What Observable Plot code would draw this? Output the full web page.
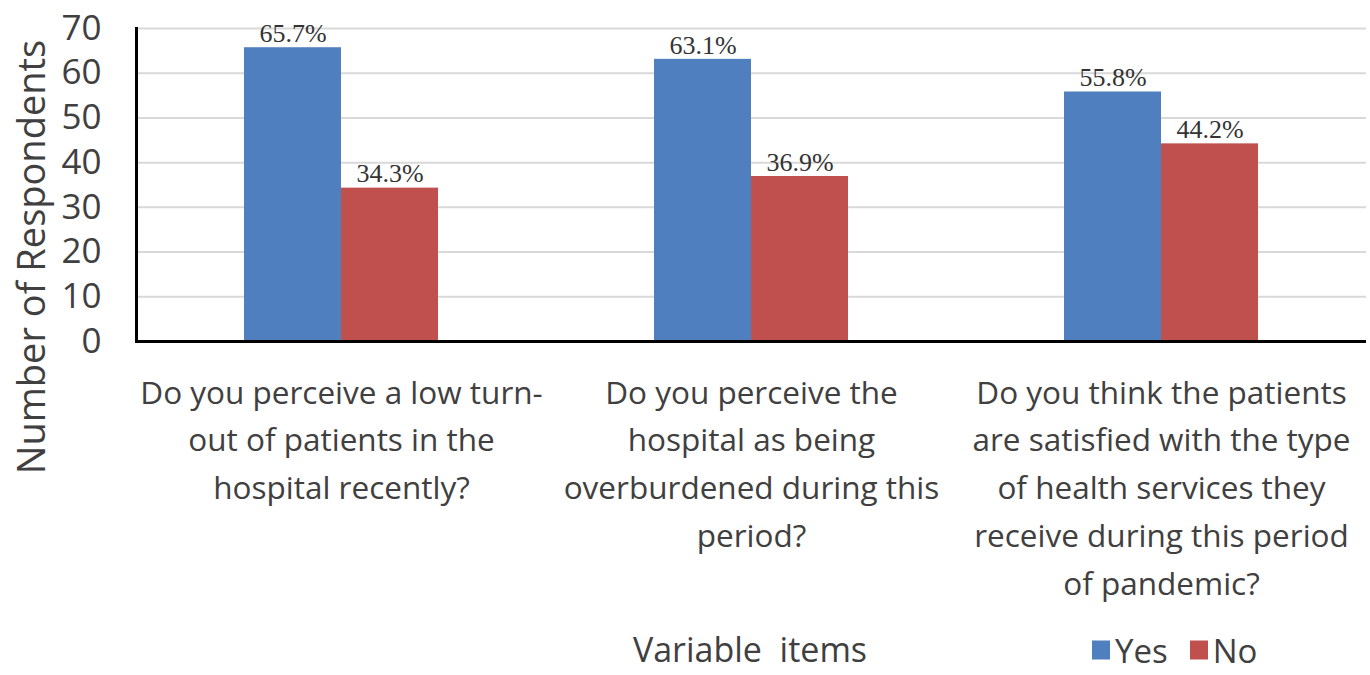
<!DOCTYPE html>
<html>
<head>
<meta charset="utf-8">
<script src="https://cdn.jsdelivr.net/npm/d3@7"></script>
<script src="https://cdn.jsdelivr.net/npm/@observablehq/plot@0.6"></script>
<style>
  html, body { margin: 0; padding: 0; background: #fff; }
  #wrap { position: relative; width: 1370px; height: 675px; overflow: hidden; font-family: "Open Sans", sans-serif; color: #404040; }
  #ylabel { position: absolute; left: 30px; top: 257px; transform: translate(-50%, -50%) rotate(-90deg); font-size: 38px; line-height: 1; white-space: nowrap; }
  #xlabel { position: absolute; left: 750px; top: 649px; transform: translate(-50%, -50%); font-size: 34px; line-height: 1; white-space: pre; }
  #legend { position: absolute; left: 1092px; top: 650px; transform: translateY(-50%); font-size: 33px; line-height: 1; display: flex; align-items: center; white-space: nowrap; }
  #legend .sw { display: inline-block; width: 18px; height: 19px; margin-right: 5px; }
  #legend .item { display: flex; align-items: center; margin-right: 22px; }
</style>
</head>
<body>
<div id="wrap"></div>
<script>
const categories = [
  "Do you perceive a low turn-\nout of patients in the\nhospital recently?",
  "Do you perceive the\nhospital as being\noverburdened during this\nperiod?",
  "Do you think the patients\nare satisfied with the type\nof health services they\nreceive during this period\nof pandemic?"
];
const series = ["Yes", "No"];
const yesValues = [65.7, 63.1, 55.8];
const noValues = [34.3, 36.9, 44.2];
const yTicks = [0, 10, 20, 30, 40, 50, 60, 70];
const colors = ["#4f7fbe", "#c0504d"];
const yTitle = "Number of Respondents";
const xTitle = "Variable  items";

const data = categories.flatMap((c, i) => [
  {category: c, series: "Yes", value: yesValues[i]},
  {category: c, series: "No", value: noValues[i]}
]);

const chart = Plot.plot({
  width: 1370,
  height: 675,
  marginLeft: 135,
  marginRight: 4,
  marginTop: 28,
  marginBottom: 334,
  style: {fontFamily: "Open Sans, sans-serif", color: "#404040", background: "transparent"},
  fx: {domain: categories, padding: 0, label: null},
  x: {domain: series, paddingInner: 0, paddingOuter: 1.113, axis: null},
  y: {domain: [0, 70], label: null},
  color: {domain: series, range: colors},
  marks: [
    Plot.gridY(yTicks, {stroke: "#d9d9d9", strokeOpacity: 1, strokeWidth: 2}),
    Plot.barY(data, {fx: "category", x: "series", y: "value", fill: "series"}),
    Plot.text(data, {fx: "category", x: "series", y: "value", text: d => d.value.toFixed(1) + "%",
      dy: -14, fontFamily: "Liberation Serif, serif", fontSize: 26, fill: "#333"}),
    Plot.ruleY([0], {stroke: "black", strokeWidth: 3}),
    Plot.frame({anchor: "left", stroke: "black", strokeWidth: 3, fx: [categories[0]]}),
    Plot.axisY({ticks: yTicks, tickSize: 0, tickPadding: 35, fontSize: 35, label: null}),
    Plot.axisFx({anchor: "bottom", tickSize: 0, tickPadding: 28, fontSize: 31.5, lineHeight: 1.52, label: null})
  ]
});

const wrap = document.getElementById("wrap");
wrap.appendChild(chart);

const yl = document.createElement("div");
yl.id = "ylabel"; yl.textContent = yTitle; wrap.appendChild(yl);
const xl = document.createElement("div");
xl.id = "xlabel"; xl.textContent = xTitle; wrap.appendChild(xl);
const lg = document.createElement("div");
lg.id = "legend";
series.forEach((s, i) => {
  const it = document.createElement("span"); it.className = "item";
  const sw = document.createElement("span"); sw.className = "sw"; sw.style.background = colors[i];
  it.appendChild(sw); it.appendChild(document.createTextNode(s));
  lg.appendChild(it);
});
wrap.appendChild(lg);
</script>
</body>
</html>
